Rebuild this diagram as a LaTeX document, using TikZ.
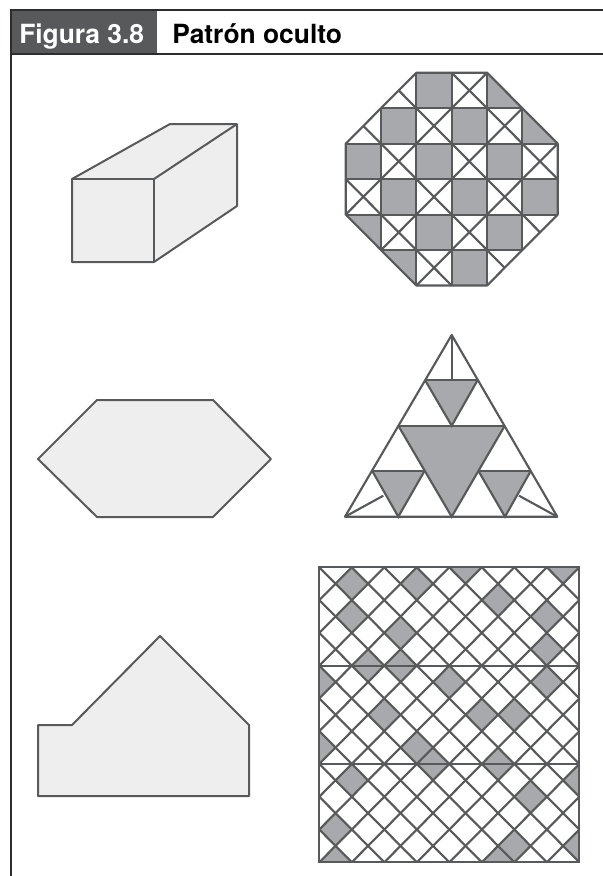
\documentclass[tikz,border=0pt]{standalone}
\usepackage{fontspec}
\setmainfont{TeX Gyre Heros}
\usepackage{xcolor}
\definecolor{framedark}{RGB}{45,45,47}
\definecolor{headgray}{RGB}{88,89,91}
\definecolor{linegray}{RGB}{88,89,91}
\definecolor{patgray}{RGB}{167,169,172}
\definecolor{solidfill}{RGB}{238,238,239}
\tikzset{
  solidshape/.style={draw=linegray,fill=solidfill,line width=1.5pt,line join=round},
  patline/.style={draw=linegray,line width=1.6pt},
  patfill/.style={fill=patgray},
  framerule/.style={draw=framedark,line width=1.7pt},
}
\begin{document}
\begin{tikzpicture}[x=0.75pt,y=-0.75pt]
\useasboundingbox (0,0) rectangle (603,876);
% header
\fill[headgray](11,10)rectangle(157,54);
\draw[framerule](603,10)--(11,10)--(11,876);
\draw[framerule](11,54)--(603,54);
\node[anchor=base west,inner sep=0pt,text=white,font=\fontsize{19.8}{22}\selectfont\bfseries]
  (figlabel) at (19,43) {Figura 3.8};
\node[anchor=base west,inner sep=0pt,text=black,font=\fontsize{19.8}{22}\selectfont\bfseries]
  (figtitle) at (172,43) {Patrón oculto};
% solids on the left
\draw[solidshape](72,179)--(170,124)--(237,124)--(237,206)--(154,262)--(72,262)--cycle;
\draw[solidshape](72,179)--(154,179)--(154,262);
\draw[solidshape,fill=none](154,179)--(237,124);
\draw[solidshape](38,459)--(97,400)--(213,400)--(271,459)--(213,517)--(97,517)--cycle;
\draw[solidshape](38,725)--(72,725)--(160,636)--(249,725)--(249,796)--(38,796)--cycle;
% octagon, one unit is one cell
\begin{scope}[shift={(345.7,72.7)},x=26.5pt,y=-26.6pt]
\foreach \x/\y in {2/0,1/1,3/1,0/2,2/2,4/2,1/3,3/3,5/3,2/4,4/4,3/5}{
  \fill[patfill](\x,\y)rectangle(\x+1,\y+1);}
\fill[patfill](4,0)--(5,1)--(4,1)--cycle;
\fill[patfill](5,1)--(6,2)--(5,2)--cycle;
\fill[patfill](0,4)--(1,4)--(1,5)--cycle;
\fill[patfill](1,5)--(2,5)--(2,6)--cycle;
\foreach \x/\y in {3/0,2/1,4/1,1/2,3/2,5/2,0/3,2/3,4/3,1/4,3/4,2/5}{
  \draw[patline](\x,\y)--(\x+1,\y+1) (\x+1,\y)--(\x,\y+1);}
\foreach \x/\y/\u/\v in {2/1/1.5/0.5,1/2/0.5/1.5,5/4/5.5/4.5,4/5/4.5/5.5}{
  \draw[patline](\x,\y)--(\u,\v);}
\draw[patline](1,1)--(5,1) (0,2)--(6,2) (0,3)--(6,3) (0,4)--(6,4) (1,5)--(5,5);
\draw[patline](1,1)--(1,5) (2,0)--(2,6) (3,0)--(3,6) (4,0)--(4,6) (5,1)--(5,5);
\draw[patline,line join=round](2,0)--(4,0)--(6,2)--(6,4)--(4,6)--(2,6)--(0,4)--(0,2)--cycle;
\end{scope}
% triangle
\fill[patfill](398.3,425.7)--(504.8,425.7)--(451.7,516.7)--cycle;
\fill[patfill](425,380)--(477.7,380)--(451.7,425.7)--cycle;
\fill[patfill](372.3,471)--(424.5,471)--(398.3,516.7)--cycle;
\fill[patfill](478.5,471)--(530.7,471)--(505,516.7)--cycle;
\draw[patline](425,380)--(477.7,380) (398.3,425.7)--(504.8,425.7)
  (372.3,471)--(424.5,471) (478.5,471)--(530.7,471);
\draw[patline](425,380)--(451.7,425.7)--(477.7,380);
\draw[patline](398.3,425.7)--(451.7,516.7)--(504.8,425.7);
\draw[patline](372.3,471)--(398.3,516.7)--(424.5,471);
\draw[patline](478.5,471)--(505,516.7)--(530.7,471);
\draw[patline](451.7,335)--(451.7,380);
\draw[patline](345,516.7)--(383.3,495.7) (557.3,516.7)--(519,495.7);
\draw[patline,line join=round](451.7,335)--(557.3,516.7)--(345,516.7)--cycle;
% lattice, one unit is half a diamond
\begin{scope}[shift={(319.3,567.3)},x=12.19pt,y=-12.29pt]
\begin{scope}
\clip(0,0)rectangle(16,18);
\foreach \x/\y in {2/1,6/1,9/0,15/0,11/2,2/3,14/3,5/4,14/5,3/6,5/6,8/7,14/7,0/7,
  4/9,10/9,12/9,0/11,6/11,7/12,11/12,2/13,16/13,13/14,1/16,12/17,16/17,1/18,11/18}{
  \fill[patfill](\x,\y-1)--(\x+1,\y)--(\x,\y+1)--(\x-1,\y)--cycle;}
\foreach \k in {-18,-16,...,16}{
  \draw[patline](\k,0)--(\k+18,18);}
\foreach \k in {0,2,...,34}{
  \draw[patline](\k,0)--(\k-18,18);}
\end{scope}
\draw[patline](0,6)--(16,6) (0,12)--(16,12);
\draw[patline](0,0)rectangle(16,18);
\end{scope}
\end{tikzpicture}
\end{document}
